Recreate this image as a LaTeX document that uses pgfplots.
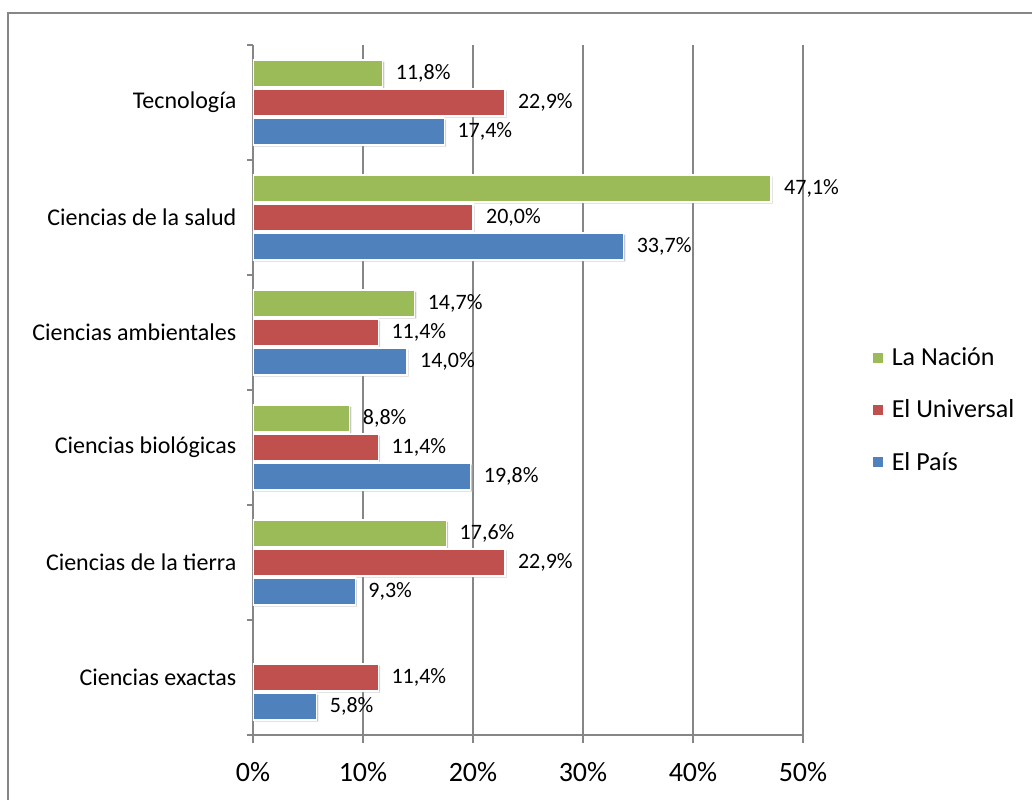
\documentclass[border=0pt]{standalone}
\usepackage{fontspec}
\setmainfont{Carlito}
\usepackage{pgfplots}
\pgfplotsset{compat=1.18}
\usetikzlibrary{shadows}
\definecolor{cLN}{HTML}{9BBB59}
\definecolor{cEU}{HTML}{C0504D}
\definecolor{cEP}{HTML}{4F81BD}
\definecolor{gridc}{HTML}{868686}
\begin{document}
\begin{tikzpicture}
\useasboundingbox (0,0) rectangle (774pt,-600pt);
\draw[gridc, line width=1.5pt] (6pt,-600pt) -- (6pt,-9.75pt) -- (774pt,-9.75pt);
\begin{axis}[
  /pgf/number format/assume math mode=true,
  at={(189.75pt,-551.25pt)}, anchor=south west,
  scale only axis, width=412.5pt, height=517.5pt,
  xbar, bar width=0.235,
  xmin=0, xmax=50, ymin=-0.5, ymax=5.5,
  axis x line*=bottom, axis y line*=left,
  axis line style={gridc, line width=0.8pt, -},
  xtick={0,10,20,30,40,50},
  xticklabel={\pgfmathprintnumber{\tick}\%},
  xmajorgrids, grid style={gridc, line width=0.8pt},
  ytick={0,1,2,3,4,5},
  yticklabels={Ciencias exactas, Ciencias de la tierra, Ciencias biológicas, Ciencias ambientales, Ciencias de la salud, Tecnología},
  minor ytick={-0.5,0.5,1.5,2.5,3.5,4.5,5.5},
  major y tick style={draw=none},
  tick align=outside,
  major tick length=6pt, minor tick length=4.5pt,
  tick style={gridc, line width=0.8pt},
  xticklabel style={font=\fontsize{21}{21}\selectfont, yshift=-11pt},
  yticklabel style={font=\fontsize{18}{18}\selectfont, xshift=-3pt},
  point meta=x,
  nodes near coords={\pgfmathprintnumber[fixed,fixed zerofill,precision=1,use comma]{\pgfplotspointmeta}\%},
  nodes near coords align={horizontal},
  every node near coord/.append style={font=\fontsize{16.5}{16.5}\selectfont, xshift=6pt, text=black},
  legend style={at={(1.127,0.471)}, anchor=west, draw=none, fill=none, font=\fontsize{19.5}{19.5}\selectfont, row sep=20pt, inner sep=0pt},
  legend cell align=left,
  legend image code/.code={\fill[#1, draw=none] (0pt,-3.75pt) rectangle (7.5pt,3.75pt); \path[draw=none, fill=none] (0pt,0pt) rectangle (12pt,0pt);},
  bars/.style={draw=white, line width=1pt, drop shadow={shadow xshift=1.2pt, shadow yshift=-1.2pt, fill=black, opacity=0.22}},
]
\addlegendimage{fill=cLN, draw=none}
\addlegendentry{La Nación}
\addlegendimage{fill=cEU, draw=none}
\addlegendentry{El Universal}
\addlegendimage{fill=cEP, draw=none}
\addlegendentry{El País}
% La Nacion
\addplot[forget plot, fill=cLN, bars, bar shift=0.252] coordinates {
  (17.6,1) (8.8,2) (14.7,3) (47.1,4) (11.8,5)};
% El Universal
\addplot[forget plot, fill=cEU, bars, bar shift=0] coordinates {
  (11.4,0) (22.9,1) (11.4,2) (11.4,3) (20.0,4) (22.9,5)};
% El Pais
\addplot[forget plot, fill=cEP, bars, bar shift=-0.252] coordinates {
  (5.8,0) (9.3,1) (19.8,2) (14.0,3) (33.7,4) (17.4,5)};
\end{axis}
\end{tikzpicture}
\end{document}
